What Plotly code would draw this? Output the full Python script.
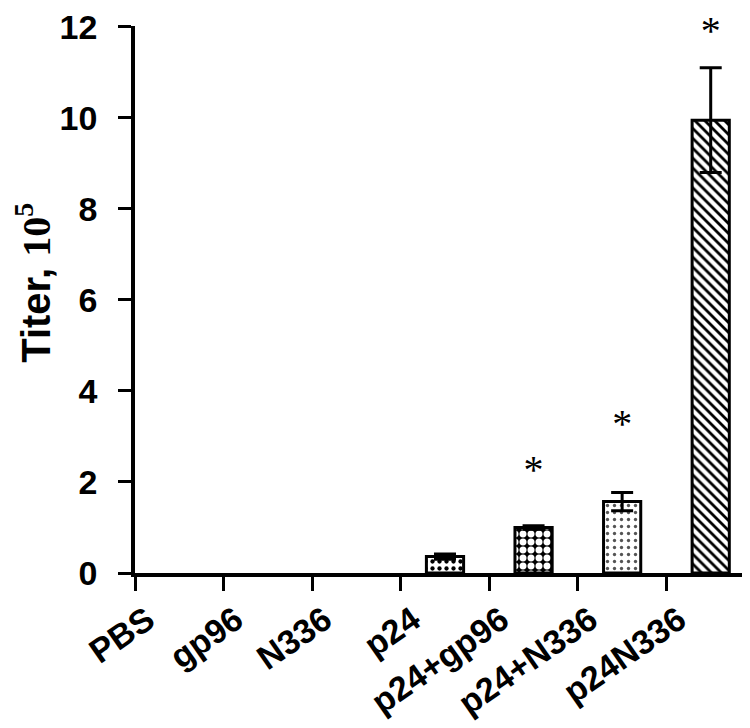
import plotly.graph_objects as go

groups = ["PBS", "gp96", "N336", "p24", "p24+gp96", "p24+N336", "p24N336"]
titer = [0, 0, 0, 0.36, 1.0, 1.57, 9.95]
err_groups = ["p24", "p24+gp96", "p24+N336", "p24N336"]
err_mean = [0.36, 1.0, 1.57, 9.95]
err_size = [0.06, 0.04, 0.2, 1.15]
star_groups = ["p24+gp96", "p24+N336", "p24N336"]
star_y = [2.2, 3.2, 11.85]
y_ticks = [0, 2, 4, 6, 8, 10, 12]

shapes = ["", "", "", ".", ".", ".", "\\"]
bg = ["white", "white", "white", "white", "black", "white", "white"]
fg = ["black", "black", "black", "black", "white", "#555555", "black"]
psize = [8, 8, 8, 7, 8, 7, 7]
solid = [0.3, 0.3, 0.3, 0.3, 0.6, 0.18, 0.4]
outline = [0, 0, 0, 3, 3, 3, 3]

fig = go.Figure()
fig.add_trace(
    go.Bar(
        x=groups,
        y=titer,
        width=0.42,
        marker=dict(
            color="white",
            line=dict(color="black", width=outline),
            pattern=dict(
                shape=shapes,
                bgcolor=bg,
                fgcolor=fg,
                size=psize,
                solidity=solid,
                fillmode="replace",
            ),
        ),
        showlegend=False,
    )
)
# error bars only where there is a measurable spread
fig.add_trace(
    go.Scatter(
        x=err_groups,
        y=err_mean,
        mode="markers",
        marker=dict(size=0.1, color="black", opacity=0),
        error_y=dict(type="data", array=err_size, color="black", thickness=3, width=11),
        showlegend=False,
    )
)
fig.add_trace(
    go.Scatter(
        x=star_groups,
        y=star_y,
        mode="text",
        text=["*"] * len(star_groups),
        textfont=dict(family="Liberation Serif", size=40, color="black"),
        cliponaxis=False,
        showlegend=False,
    )
)

fig.update_layout(
    width=750,
    height=728,
    margin=dict(l=127, r=3, t=18, b=163),
    plot_bgcolor="white",
    paper_bgcolor="white",
)
fig.update_xaxes(
    range=[-0.5, 6.5],
    automargin=False,
    showline=True,
    linecolor="black",
    linewidth=3.5,
    ticks="outside",
    tickson="boundaries",
    ticklen=14,
    tickwidth=3,
    tickcolor="black",
    tickangle=-35,
    ticklabelstandoff=10,
    ticklabelshift=-32,
    tickfont=dict(family="Liberation Sans", size=34, color="black", weight="bold"),
    showgrid=False,
    zeroline=False,
)
fig.update_yaxes(
    range=[0, 12.02],
    automargin=False,
    tickvals=y_ticks,
    ticklabeloverflow="allow",
    showline=True,
    linecolor="black",
    linewidth=3.5,
    ticks="outside",
    ticklen=13,
    tickwidth=3,
    tickcolor="black",
    ticklabelstandoff=14,
    tickfont=dict(family="Liberation Sans", size=34, color="black", weight="bold"),
    title=dict(
        text="&nbsp;&nbsp;&nbsp;Titer, <span style='font-family:Liberation Serif'>10<sup>5</sup></span>",
        font=dict(family="Liberation Sans", size=40, color="black", weight="bold"),
        standoff=28,
    ),
    showgrid=False,
    zeroline=False,
)

fig.write_html("out.html")
